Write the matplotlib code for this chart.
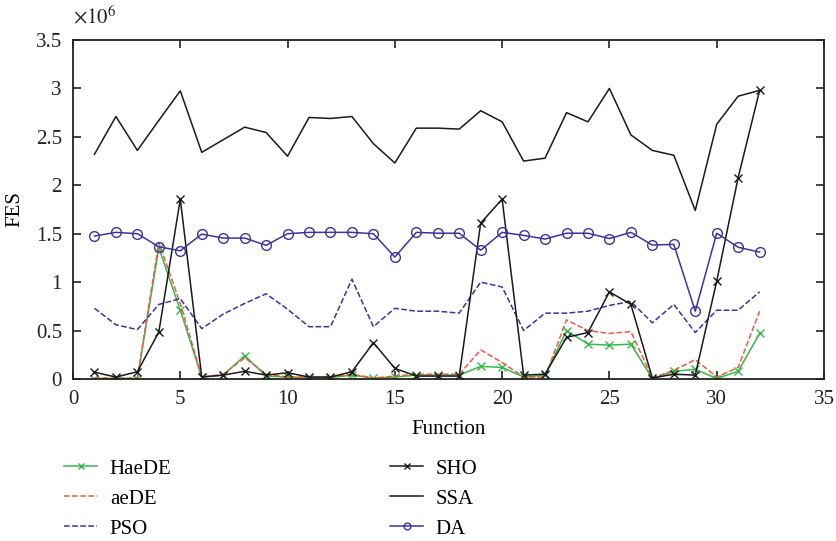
import matplotlib
matplotlib.use('Agg')
import matplotlib.pyplot as plt
import numpy as np

plt.rcParams['font.family'] = ['Liberation Serif', 'DejaVu Serif']
plt.rcParams['mathtext.fontset'] = 'stix'

functions = list(range(1, 33))

haede = [0.005, 0.005, 0.005, 1.355, 0.71, 0.02, 0.04, 0.24, 0.03, 0.02,
         0.015, 0.015, 0.04, 0.01, 0.02, 0.04, 0.04, 0.04, 0.13, 0.12,
         0.02, 0.04, 0.50, 0.36, 0.35, 0.36, 0.005, 0.08, 0.10, 0.005,
         0.08, 0.47]
aede = [0.01, 0.01, 0.01, 1.41, 0.78, 0.02, 0.05, 0.22, 0.05, 0.02,
        0.02, 0.02, 0.05, 0.01, 0.03, 0.05, 0.05, 0.05, 0.30, 0.17,
        0.02, 0.02, 0.61, 0.50, 0.47, 0.49, 0.01, 0.09, 0.20, 0.02,
        0.12, 0.70]
pso = [0.73, 0.56, 0.51, 0.77, 0.83, 0.52, 0.67, 0.78, 0.88, 0.72,
       0.54, 0.54, 1.03, 0.54, 0.73, 0.70, 0.70, 0.68, 1.00, 0.95,
       0.50, 0.68, 0.68, 0.70, 0.76, 0.80, 0.58, 0.77, 0.48, 0.71,
       0.71, 0.90]
sho = [0.07, 0.02, 0.075, 0.485, 1.857, 0.02, 0.04, 0.08, 0.04, 0.065,
       0.02, 0.02, 0.075, 0.375, 0.11, 0.03, 0.03, 0.03, 1.61, 1.857,
       0.04, 0.05, 0.43, 0.48, 0.90, 0.77, 0.01, 0.05, 0.04, 1.01,
       2.08, 2.98]
ssa = [2.32, 2.71, 2.36, 2.67, 2.975, 2.34, 2.47, 2.60, 2.545, 2.30,
       2.70, 2.69, 2.71, 2.43, 2.23, 2.59, 2.59, 2.58, 2.77, 2.655,
       2.25, 2.28, 2.75, 2.655, 3.00, 2.52, 2.36, 2.31, 1.74, 2.63,
       2.92, 2.98]
da = [1.476, 1.514, 1.50, 1.365, 1.324, 1.496, 1.455, 1.455, 1.38, 1.50,
      1.514, 1.514, 1.514, 1.50, 1.259, 1.514, 1.505, 1.505, 1.33, 1.514,
      1.483, 1.445, 1.505, 1.505, 1.45, 1.514, 1.383, 1.39, 0.70, 1.505,
      1.36, 1.31]

GREEN = '#35b84c'
RED = '#f05a3c'
BLUE = '#3a34a0'
BLACK = '#1a1a1a'

W, H = 836, 541
fig = plt.figure(figsize=(W/100, H/100), dpi=100)
ax = fig.add_axes([73/W, 1 - 379/H, (824-73)/W, (379-40)/H])

l1, = ax.plot(functions, haede, '-x', color=GREEN, lw=1.1, ms=6, mew=1.0, label='HaeDE')
l2, = ax.plot(functions, aede, '--', color=RED, lw=1.1, label='aeDE')
l3, = ax.plot(functions, pso, '--', color=BLUE, lw=1.1, label='PSO')
l4, = ax.plot(functions, sho, '-x', color=BLACK, lw=1.1, ms=6, mew=1.0, label='SHO')
l5, = ax.plot(functions, ssa, '-', color=BLACK, lw=1.1, label='SSA')
l6, = ax.plot(functions, da, '-o', color=BLUE, lw=1.1, ms=7, mfc='none', mew=1.0, label='DA')

ax.set_xlim(0, 35)
ax.set_ylim(0, 3.5)
ax.set_xticks(np.arange(0, 36, 5))
ax.set_yticks([0, 0.5, 1, 1.5, 2, 2.5, 3, 3.5])
ax.set_yticklabels(['0', '0.5', '1', '1.5', '2', '2.5', '3', '3.5'])
ax.tick_params(direction='in', top=True, right=True, labelsize=15, length=6, width=1.2,
               colors='#222222')
ax.tick_params(axis='x', pad=8)
ax.tick_params(axis='y', pad=8)
for s in ax.spines.values():
    s.set_linewidth(1.3)
    s.set_color('#222222')

ax.set_xlabel('Function', fontsize=15, labelpad=8)
ax.set_ylabel('FES', fontsize=15, labelpad=8)
fig.text(73/W, 1 - 17/H, r'$\times10^6$', fontsize=15, ha='left', va='center', color='#222222')

leg_kw = dict(loc='upper left', frameon=False, fontsize=15, handlelength=1.6,
              labelspacing=0.5, handletextpad=0.6, borderpad=0, borderaxespad=0,
              markerscale=0.7)
leg1 = fig.legend(handles=[l1, l2, l3], bbox_to_anchor=(64/W, 1 - 459/H), **leg_kw)
leg2 = fig.legend(handles=[l4, l5, l6], bbox_to_anchor=(390/W, 1 - 459/H), **leg_kw)

fig.savefig('out.png', dpi=100)
